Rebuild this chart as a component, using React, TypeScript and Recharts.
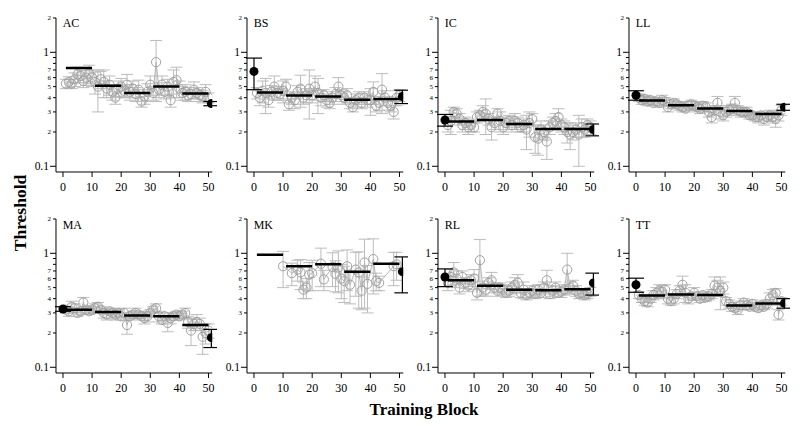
import React from 'react';
import { ComposedChart, Line, Scatter, XAxis, YAxis, ErrorBar } from 'recharts';

const FONT = '"Liberation Serif", "Times New Roman", serif';

const blocks = [1,2,3,4,5,6,7,8,9,10,11,12,13,14,15,16,17,18,19,20,21,22,23,24,25,26,27,28,29,30,31,32,33,34,35,36,37,38,39,40,41,42,43,44,45,46,47,48,49,50];
const xTicks = [0, 10, 20, 30, 40, 50];
const yTicks = [0.1, 0.2, 0.3, 0.4, 0.5, 0.6, 0.7, 0.8, 0.9, 1, 2];
const yTickLabels = ['0.1', '2', '3', '4', '5', '6', '7', '', '', '1', '2'];
const segStarts = [1, 11, 21, 31, 41];
const segEnds = [10, 20, 30, 40, 50];
const preBlock = 0;
const postBlock = 51;

// ---- AC ----
const acValues = [0.53,0.55,0.53,0.58,0.64,0.62,0.56,0.6,0.65,0.6,0.55,0.5,0.58,0.55,0.48,0.52,0.45,0.4,0.48,0.5,0.46,0.52,0.45,0.48,0.43,0.47,0.37,0.41,0.45,0.52,0.44,0.82,0.47,0.52,0.45,0.5,0.38,0.55,0.57,0.48,0.44,0.45,0.42,0.43,0.47,0.44,0.42,0.41,0.45,0.4];
const acErrors = [0.05,0.06,0.05,0.08,0.1,0.08,0.07,0.09,0.12,0.1,0.12,0.2,0.1,0.15,0.08,0.1,0.07,0.05,0.08,0.09,0.06,0.12,0.07,0.08,0.06,0.1,0.04,0.06,0.08,0.1,0.06,0.45,0.07,0.1,0.06,0.08,0.05,0.15,0.17,0.08,0.06,0.07,0.05,0.06,0.08,0.05,0.05,0.05,0.07,0.04];
const acMeans = [0.73, 0.51, 0.44, 0.5, 0.435];
const acPre: number[] | null = null;
const acPost = [0.355, 0.015];

// ---- BS ----
const bsValues = [0.44,0.4,0.46,0.44,0.38,0.45,0.5,0.44,0.43,0.46,0.5,0.35,0.4,0.38,0.45,0.48,0.4,0.42,0.48,0.42,0.5,0.44,0.4,0.42,0.38,0.36,0.4,0.43,0.5,0.42,0.4,0.42,0.36,0.33,0.38,0.4,0.36,0.4,0.38,0.38,0.45,0.34,0.36,0.47,0.4,0.36,0.34,0.3,0.4,0.42];
const bsErrors = [0.05,0.06,0.1,0.15,0.05,0.06,0.12,0.06,0.05,0.1,0.08,0.04,0.05,0.06,0.06,0.15,0.05,0.06,0.22,0.06,0.12,0.15,0.06,0.05,0.05,0.04,0.05,0.06,0.1,0.05,0.05,0.06,0.04,0.03,0.05,0.05,0.04,0.05,0.05,0.1,0.1,0.04,0.05,0.18,0.06,0.05,0.04,0.04,0.06,0.05];
const bsMeans = [0.445, 0.418, 0.41, 0.383, 0.39];
const bsPre = [0.68, 0.21];
const bsPost = [0.41, 0.055];

// ---- IC ----
const icValues = [0.23,0.25,0.3,0.29,0.26,0.23,0.24,0.22,0.23,0.22,0.27,0.28,0.3,0.29,0.26,0.22,0.24,0.29,0.25,0.22,0.24,0.25,0.23,0.25,0.24,0.22,0.23,0.21,0.24,0.26,0.18,0.175,0.21,0.2,0.165,0.22,0.24,0.25,0.27,0.23,0.22,0.2,0.19,0.2,0.21,0.19,0.22,0.21,0.23,0.22];
const icErrors = [0.03,0.06,0.03,0.03,0.03,0.03,0.03,0.03,0.03,0.02,0.03,0.03,0.04,0.1,0.03,0.05,0.03,0.03,0.05,0.03,0.03,0.03,0.03,0.04,0.03,0.02,0.03,0.07,0.06,0.03,0.05,0.05,0.04,0.03,0.05,0.03,0.03,0.04,0.05,0.03,0.03,0.04,0.05,0.03,0.03,0.09,0.04,0.03,0.03,0.03];
const icMeans = [0.247, 0.255, 0.235, 0.212, 0.212];
const icPre = [0.255, 0.03];
const icPost = [0.21, 0.025];

// ---- LL ----
const llValues = [0.4,0.38,0.39,0.37,0.38,0.36,0.37,0.36,0.38,0.37,0.33,0.35,0.36,0.35,0.34,0.33,0.32,0.34,0.35,0.34,0.33,0.32,0.34,0.33,0.3,0.27,0.31,0.36,0.3,0.28,0.3,0.31,0.32,0.36,0.31,0.3,0.3,0.3,0.28,0.28,0.27,0.27,0.28,0.26,0.27,0.28,0.27,0.26,0.28,0.31];
const llErrors = [0.03,0.03,0.03,0.03,0.03,0.02,0.03,0.03,0.04,0.03,0.03,0.03,0.03,0.02,0.03,0.03,0.02,0.03,0.03,0.03,0.03,0.03,0.03,0.03,0.03,0.03,0.03,0.05,0.04,0.03,0.03,0.03,0.03,0.05,0.03,0.03,0.02,0.03,0.02,0.02,0.02,0.03,0.02,0.03,0.02,0.03,0.03,0.04,0.03,0.03];
const llMeans = [0.378, 0.344, 0.322, 0.305, 0.288];
const llPre = [0.42, 0.04];
const llPost = [0.33, 0.02];

// ---- MA ----
const maValues = [0.32,0.31,0.34,0.33,0.3,0.31,0.37,0.32,0.31,0.32,0.33,0.34,0.32,0.3,0.29,0.31,0.3,0.29,0.3,0.28,0.3,0.235,0.28,0.29,0.3,0.29,0.28,0.27,0.28,0.3,0.32,0.33,0.28,0.26,0.28,0.245,0.27,0.28,0.29,0.28,0.29,0.3,0.25,0.21,0.24,0.25,0.24,0.185,0.2,0.21];
const maErrors = [0.02,0.03,0.04,0.03,0.02,0.02,0.04,0.02,0.02,0.02,0.03,0.03,0.02,0.03,0.03,0.02,0.03,0.03,0.02,0.02,0.03,0.04,0.02,0.02,0.03,0.02,0.02,0.03,0.03,0.02,0.02,0.03,0.03,0.02,0.02,0.04,0.03,0.02,0.02,0.02,0.02,0.03,0.03,0.055,0.03,0.04,0.03,0.055,0.04,0.03];
const maMeans = [0.319, 0.305, 0.285, 0.28, 0.235];
const maPre = [0.325, 0.015];
const maPost = [0.182, 0.033];

// ---- MK ----
const mkValues = [null,null,null,null,null,null,null,null,null,0.77,null,null,0.67,null,0.72,0.68,0.48,0.5,0.65,0.67,null,null,0.81,0.59,null,null,0.76,0.66,0.75,0.6,0.57,0.77,0.53,null,0.72,0.68,0.47,0.83,0.54,null,0.89,0.57,0.55,null,null,null,null,0.77,0.8,null];
const mkErrors = [null,null,null,null,null,null,null,null,null,0.27,null,null,0.15,null,0.15,0.2,0.08,0.1,0.18,0.2,null,null,0.3,0.12,null,null,0.25,0.2,0.3,0.2,0.2,0.3,0.17,null,0.3,0.35,0.15,0.5,0.24,null,0.45,0.1,0.08,null,null,null,null,0.25,0.22,null];
const mkMeans = [0.97, 0.77, 0.8, 0.69, 0.81];
const mkPre: number[] | null = null;
const mkPost = [0.69, 0.24];

// ---- RL ----
const rlValues = [0.55,0.62,0.68,0.6,0.5,0.62,0.55,0.52,0.58,0.6,0.45,0.87,0.5,0.48,0.55,0.58,0.5,0.47,0.5,0.48,0.45,0.47,0.5,0.53,0.55,0.45,0.48,0.43,0.45,0.47,0.44,0.48,0.45,0.5,0.58,0.44,0.47,0.5,0.45,0.46,0.48,0.72,0.5,0.52,0.47,0.44,0.45,0.43,0.44,0.46];
const rlErrors = [0.08,0.1,0.15,0.1,0.06,0.08,0.06,0.06,0.07,0.12,0.06,0.45,0.07,0.06,0.06,0.1,0.05,0.05,0.05,0.05,0.04,0.05,0.06,0.08,0.1,0.04,0.08,0.04,0.04,0.05,0.04,0.05,0.04,0.06,0.13,0.04,0.05,0.06,0.04,0.05,0.05,0.28,0.06,0.06,0.05,0.04,0.04,0.04,0.04,0.04];
const rlMeans = [0.58, 0.518, 0.48, 0.475, 0.485];
const rlPre = [0.62, 0.11];
const rlPost = [0.55, 0.12];

// ---- TT ----
const ttValues = [0.43,0.4,0.38,0.37,0.4,0.43,0.45,0.47,0.46,0.48,0.4,0.38,0.4,0.44,0.47,0.53,0.45,0.4,0.42,0.45,0.42,0.4,0.43,0.41,0.42,0.44,0.52,0.5,0.47,0.5,0.38,0.36,0.34,0.33,0.32,0.35,0.37,0.35,0.34,0.36,0.34,0.33,0.35,0.34,0.36,0.4,0.43,0.45,0.29,0.38];
const ttErrors = [0.03,0.03,0.03,0.03,0.03,0.04,0.05,0.06,0.06,0.05,0.04,0.03,0.04,0.04,0.05,0.1,0.08,0.04,0.03,0.05,0.03,0.03,0.03,0.03,0.03,0.04,0.1,0.08,0.15,0.06,0.03,0.03,0.03,0.02,0.03,0.03,0.03,0.03,0.02,0.03,0.02,0.02,0.03,0.02,0.03,0.05,0.05,0.04,0.03,0.03];
const ttMeans = [0.426, 0.435, 0.43, 0.348, 0.363];
const ttPre = [0.53, 0.075];
const ttPost = [0.365, 0.035];

const panels = [
  { name: 'AC', values: acValues, errors: acErrors, means: acMeans, pre: acPre, post: acPost },
  { name: 'BS', values: bsValues, errors: bsErrors, means: bsMeans, pre: bsPre, post: bsPost },
  { name: 'IC', values: icValues, errors: icErrors, means: icMeans, pre: icPre, post: icPost },
  { name: 'LL', values: llValues, errors: llErrors, means: llMeans, pre: llPre, post: llPost },
  { name: 'MA', values: maValues, errors: maErrors, means: maMeans, pre: maPre, post: maPost },
  { name: 'MK', values: mkValues, errors: mkErrors, means: mkMeans, pre: mkPre, post: mkPost },
  { name: 'RL', values: rlValues, errors: rlErrors, means: rlMeans, pre: rlPre, post: rlPost },
  { name: 'TT', values: ttValues, errors: ttErrors, means: ttMeans, pre: ttPre, post: ttPost },
];

// layout
const PX_PER_BLOCK = 2.91;
const X_MIN = -2.4;
const X_MAX = 51.3;
const Y_MIN = 0.0891;
const Y_MAX = 2;
const AXIS_W = 30;
const AXIS_H = 30;
const M_TOP = 10;
const M_RIGHT = 5;
const PLOT_W = (X_MAX - X_MIN) * PX_PER_BLOCK;
const PLOT_H = 154;
const CHART_W = AXIS_W + PLOT_W + M_RIGHT;
const CHART_H = M_TOP + PLOT_H + AXIS_H;
const colX0 = [62.7, 253.7, 444.7, 635.7];
const rowTop = [17.7, 219];

const YTick = (props: any) => {
  const { x, y, payload } = props;
  const idx = yTicks.indexOf(payload.value);
  const label = idx >= 0 ? yTickLabels[idx] : '';
  const major = payload.value === 0.1 || payload.value === 1;
  const len = major ? 6 : 3;
  return (
    <g>
      <line x1={x - len} x2={x} y1={y} y2={y} stroke="#000" strokeWidth={1} />
      {label !== '' && (
        <text
          x={x - len - (major ? 1 : 2)}
          y={y}
          dy="0.35em"
          textAnchor="end"
          fontSize={major ? 11.5 : 7}
          fontFamily={FONT}
          fill="#000"
        >
          {label}
        </text>
      )}
    </g>
  );
};

function Panel({ p, left, top }: any) {
  const data = blocks.map((b, i) => ({ x: b, v: p.values[i], e: p.errors[i] }));
  const seg: any[] = [];
  p.means.forEach((m: number, i: number) => {
    seg.push({ x: segStarts[i], v: m });
    seg.push({ x: segEnds[i], v: m });
    if (i < p.means.length - 1) seg.push({ x: segEnds[i] + 0.5, v: null });
  });
  const dots: any[] = [];
  if (p.pre) dots.push({ x: preBlock, v: p.pre[0], e: p.pre[1] });
  if (p.post) dots.push({ x: postBlock, v: p.post[0], e: p.post[1] });
  return (
    <>
      <div style={{ position: 'absolute', left, top }}>
        <ComposedChart width={CHART_W} height={CHART_H} margin={{ top: M_TOP, right: M_RIGHT, bottom: 0, left: 0 }}>
          <XAxis
            type="number"
            dataKey="x"
            domain={[X_MIN, X_MAX]}
            allowDataOverflow
            ticks={xTicks}
            interval={0}
            height={AXIS_H}
            tickSize={5}
            tickMargin={5}
            stroke="#000"
            tick={{ fill: '#000', fontSize: 12, fontFamily: FONT }}
          />
          <YAxis
            type="number"
            dataKey="v"
            scale="log"
            domain={[Y_MIN, Y_MAX]}
            allowDataOverflow
            ticks={yTicks}
            interval={0}
            width={AXIS_W}
            tickSize={0}
            tickMargin={0}
            tickLine={false}
            stroke="#000"
            tick={<YTick />}
          />
          <Line
            data={data}
            dataKey="v"
            stroke="#b4b4b4"
            strokeWidth={1}
            connectNulls
            isAnimationActive={false}
            activeDot={false}
            dot={{ r: 4.6, stroke: '#a0a0a0', strokeWidth: 1, fill: 'none' }}
          >
            <ErrorBar dataKey="e" direction="y" width={6} stroke="#bcbcbc" strokeWidth={1} isAnimationActive={false} />
          </Line>
        </ComposedChart>
      </div>
      <div style={{ position: 'absolute', left, top }}>
        <ComposedChart
          width={CHART_W}
          height={CHART_H}
          margin={{ top: M_TOP, right: M_RIGHT, bottom: AXIS_H, left: AXIS_W }}
        >
          <XAxis type="number" dataKey="x" domain={[X_MIN, X_MAX]} allowDataOverflow hide />
          <YAxis type="number" dataKey="v" scale="log" domain={[Y_MIN, Y_MAX]} allowDataOverflow hide />
          <Line
            data={seg}
            dataKey="v"
            stroke="#000"
            strokeWidth={2.5}
            connectNulls={false}
            dot={false}
            activeDot={false}
            isAnimationActive={false}
          />
          <Scatter data={dots} dataKey="v" fill="#000" isAnimationActive={false}>
            <ErrorBar dataKey="e" direction="y" width={8} stroke="#000" strokeWidth={1.2} isAnimationActive={false} />
          </Scatter>
        </ComposedChart>
      </div>
    </>
  );
}

export default function App() {
  return (
    <div style={{ position: 'absolute', left: 0, top: 0, width: 800, height: 426, background: '#fff', overflow: 'hidden' }}>
      {panels.map((p, i) => {
        const col = i % 4;
        const row = Math.floor(i / 4);
        const left = colX0[col] + X_MIN * PX_PER_BLOCK - AXIS_W;
        const top = rowTop[row] - M_TOP;
        return <Panel key={p.name} p={p} left={left} top={top} />;
      })}
      <svg width={800} height={426} style={{ position: 'absolute', left: 0, top: 0, pointerEvents: 'none' }}>
        {panels.map((p, i) => {
          const col = i % 4;
          const row = Math.floor(i / 4);
          return (
            <text key={p.name} x={colX0[col]} y={rowTop[row] + 9.5} fontSize={12} fontFamily={FONT} fill="#000">
              {p.name}
            </text>
          );
        })}
        <text
          x={26}
          y={213}
          transform="rotate(-90 26 213)"
          textAnchor="middle"
          fontSize={17.5}
          fontWeight="bold"
          fontFamily={FONT}
          fill="#000"
        >
          Threshold
        </text>
        <text x={424} y={415} textAnchor="middle" fontSize={17} fontWeight="bold" fontFamily={FONT} fill="#000">
          Training Block
        </text>
      </svg>
    </div>
  );
}
